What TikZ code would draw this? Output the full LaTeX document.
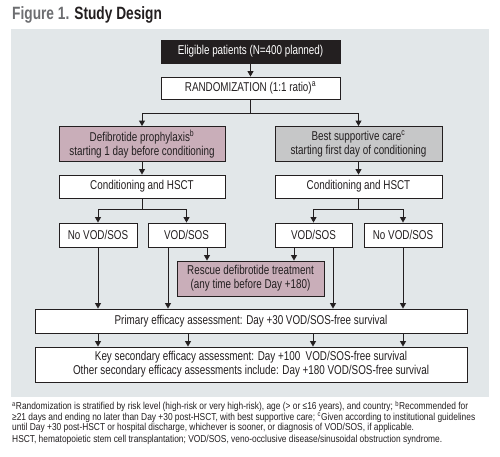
\documentclass[tikz,border=0pt]{standalone}
\usepackage{fontspec}
\setmainfont{Liberation Sans}[FakeStretch=0.77]
\newfontfamily\notefont{Liberation Sans}[FakeStretch=0.83]
\usetikzlibrary{
  positioning,
  arrows.meta,
  calc
}
\definecolor{panel}{HTML}{E2E7E9}
\definecolor{mauve}{HTML}{C9AEB9}
\definecolor{supp}{HTML}{C6C7C8}
\definecolor{ink}{HTML}{231F20}
\definecolor{titlegray}{HTML}{6D6E71}

\begin{document}
\begin{tikzpicture}[
  x=1pt, y=-1pt,
  stage/.style={draw=ink, fill=white, line width=0.9pt, inner sep=0pt, align=center,
                text=ink, font=\fontsize{12.8}{14}\selectfont},
  arr/.style={-{Triangle[length=5.5pt, width=6pt]}, line width=0.9pt, ink},
  tie/.style={line width=0.9pt, ink}
]
  \useasboundingbox (0,0) rectangle (500,456);

  % title and panel
  \node[anchor=west, inner sep=0pt, font=\fontsize{17.8}{18}\selectfont\bfseries] (title) at (12,15)
    {\textcolor{titlegray}{Figure 1.} \textcolor{ink}{Study Design}};
  \fill[panel] (11,29) rectangle (489,397);

  % boxes
  \node[stage, fill=ink, text=white, minimum width=179pt, minimum height=23pt] (elig) at (250.5,51.5)
    {Eligible patients (N=400 planned)};
  \node[stage, minimum width=179pt, minimum height=22pt] (rand) at (250.5,88)
    {RANDOMIZATION (1:1 ratio)\textsuperscript{a}};

  \node[stage, fill=mauve, minimum width=166pt, minimum height=35pt] (proph) at (142,144)
    {Defibrotide prophylaxis\textsuperscript{b}\\ starting 1 day before conditioning};
  \node[stage, fill=supp, minimum width=167pt, minimum height=35pt] (bsc) at (358.5,144)
    {Best supportive care\textsuperscript{c}\\ starting first day of conditioning};

  \node[stage, minimum width=166pt, minimum height=23pt] (condL) at (142,186.5) {Conditioning and HSCT};
  \node[stage, minimum width=167pt, minimum height=23pt] (condR) at (358.5,186.5) {Conditioning and HSCT};

  \node[stage, minimum width=78pt, minimum height=24pt] (noL) at (98,235) {No VOD/SOS};
  \node[stage, minimum width=77pt, minimum height=24pt] (vodL) at (186.5,235) {VOD/SOS};
  \node[stage, minimum width=77pt, minimum height=24pt] (vodR) at (313.5,235) {VOD/SOS};
  \node[stage, minimum width=78pt, minimum height=24pt] (noR) at (403,235) {No VOD/SOS};

  \node[stage, fill=mauve, minimum width=147pt, minimum height=35pt] (rescue) at (250.5,278.5)
    {Rescue defibrotide treatment\\ (any time before Day +180)};

  \node[stage, minimum width=432pt, minimum height=24pt] (prim) at (251,321)
    {Primary efficacy assessment: Day +30 VOD/SOS-free survival};
  \node[stage, minimum width=432pt, minimum height=35pt] (key) at (251,364.5)
    {Key secondary efficacy assessment: Day +100\ \ VOD/SOS-free survival\\
     Other secondary efficacy assessments include: Day +180 VOD/SOS-free survival};

  % connectors
  \draw[arr] (elig) -- (rand);
  \coordinate (split) at ($(rand.south)+(0,14)$);
  \draw[tie] (rand.south) -- (split);
  \draw[arr] (split) -| (proph.north);
  \draw[arr] (split) -| (bsc.north);

  \draw[arr] (proph) -- (condL);
  \draw[arr] (bsc) -- (condR);

  \coordinate (splitL) at ($(condL.south)+(0,11)$);
  \coordinate (splitR) at ($(condR.south)+(0,11)$);
  \draw[tie] (condL.south) -- (splitL);
  \draw[tie] (condR.south) -- (splitR);
  \draw[arr] (splitL) -| (noL.north);
  \draw[arr] (splitL) -| (vodL.north);
  \draw[arr] (splitR) -| (vodR.north);
  \draw[arr] (splitR) -| (noR.north);

  \draw[arr] (vodL.south -| 207,0) -- (207,0 |- rescue.north);
  \draw[arr] (vodR.south -| 294,0) -- (294,0 |- rescue.north);

  \draw[arr] (noL) -- (noL |- prim.north);
  \draw[arr] (vodL.south -| 168,0) -- (168,0 |- prim.north);
  \draw[arr] (vodR.south -| 333,0) -- (333,0 |- prim.north);
  \draw[arr] (noR) -- (noR |- prim.north);

  \foreach \xx in {98,188,313,403}
    \draw[arr] (prim.south -| \xx,0) -- (\xx,0 |- key.north);

  % footnotes
  \node[anchor=north west, inner sep=0pt, align=left, text=ink,
        font=\notefont\fontsize{10.1}{10.4}\selectfont] (notes) at (12,401)
    {\textsuperscript{a}Randomization is stratified by risk level (high-risk or very high-risk), age (> or ≤16 years), and country; \textsuperscript{b}Recommended for\\
     ≥21 days and ending no later than Day +30 post-HSCT, with best supportive care; \textsuperscript{c}Given according to institutional guidelines\\
     until Day +30 post-HSCT or hospital discharge, whichever is sooner, or diagnosis of VOD/SOS, if applicable.};
  \node[anchor=north west, inner sep=0pt, text=ink, font=\notefont\fontsize{10.1}{10.4}\selectfont] (abbr) at (12,434.5)
    {HSCT, hematopoietic stem cell transplantation; VOD/SOS, veno-occlusive disease/sinusoidal obstruction syndrome.};
\end{tikzpicture}
\end{document}
